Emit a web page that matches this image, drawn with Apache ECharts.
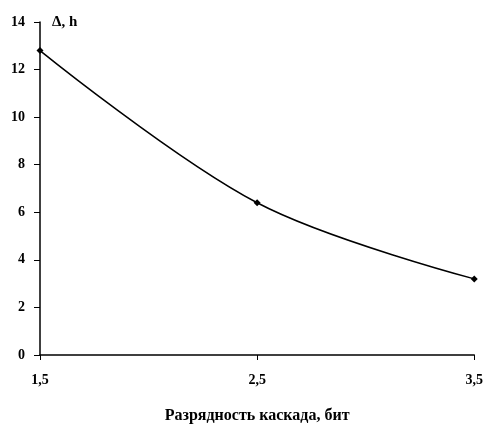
<!DOCTYPE html>
<html><head><meta charset="utf-8">
<script src="https://cdn.jsdelivr.net/npm/echarts@6/dist/echarts.min.js"></script>
<style>html,body{margin:0;padding:0;background:#fff}#c{width:486px;height:429px}</style>
</head><body><div id="c"></div>
<script>
const categories = ['1,5', '2,5', '3,5'];
const values = [12.8, 6.4, 3.2];
const yTicks = [0, 2, 4, 6, 8, 10, 12, 14];
const xTitle = 'Разрядность каскада, бит';
const yTitle = 'Δ, h';

const font = '"Liberation Serif", "Times New Roman", serif';
const chart = echarts.init(document.getElementById('c'), null, {renderer: 'canvas'});
chart.setOption({
  animation: false,
  backgroundColor: '#fff',
  grid: {left: 40, right: 11, top: 22, bottom: 62, containLabel: false},
  xAxis: {
    type: 'category',
    data: categories,
    boundaryGap: false,
    name: xTitle,
    nameLocation: 'middle',
    nameGap: 53,
    nameTextStyle: {fontFamily: font, fontWeight: 'bold', fontSize: 16, color: '#000'},
    axisLine: {lineStyle: {color: '#000', width: 1.5}},
    axisTick: {show: true, inside: false, length: 5, alignWithLabel: true, lineStyle: {color: '#000'}},
    axisLabel: {margin: 18, fontFamily: font, fontWeight: 'bold', fontSize: 14, color: '#000'},
    splitLine: {show: false}
  },
  yAxis: {
    type: 'value',
    min: yTicks[0],
    max: yTicks[yTicks.length - 1],
    interval: 2,
    name: yTitle,
    nameLocation: 'end',
    nameGap: 0,
    nameTextStyle: {fontFamily: font, fontWeight: 'bold', fontSize: 15, color: '#000', align: 'left', verticalAlign: 'middle', padding: [0, 0, 0, 12]},
    axisLine: {show: true, lineStyle: {color: '#000', width: 1.5}},
    axisTick: {show: true, inside: false, length: 6, lineStyle: {color: '#000'}},
    axisLabel: {margin: 15, fontFamily: font, fontWeight: 'bold', fontSize: 14, color: '#000'},
    splitLine: {show: false}
  },
  series: [{
    type: 'line',
    data: values,
    smooth: 0.35,
    symbol: 'diamond',
    symbolSize: 7,
    itemStyle: {color: '#000'},
    lineStyle: {color: '#000', width: 1.5}
  }]
});
</script></body></html>
